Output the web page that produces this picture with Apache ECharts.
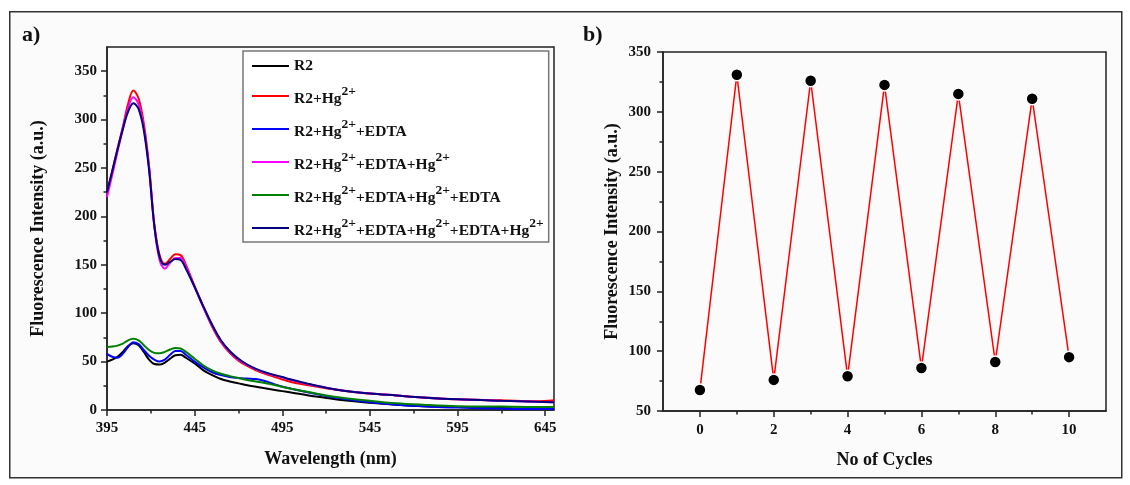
<!DOCTYPE html>
<html>
<head>
<meta charset="utf-8">
<script src="https://cdn.jsdelivr.net/npm/echarts@6/dist/echarts.min.js"></script>
<style>
  html, body { margin: 0; padding: 0; background: #fff; }
  #chart { width: 1130px; height: 485px; }
</style>
</head>
<body>
<div id="chart"></div>
<script>
// panel a) emission spectra
const wavelength = [395, 398, 401, 404, 407, 410, 413, 416, 419, 422, 425, 428, 431, 434, 437, 440, 445, 450, 455, 460, 465, 470, 475, 480, 485, 490, 495, 500, 510, 520, 530, 545, 560, 575, 595, 620, 640, 650];
const r2 = [50, 52, 55, 60, 66, 69, 67, 60, 52, 47.5, 47, 49, 53, 56.5, 57, 54, 48, 41, 36, 32, 29.5, 27.5, 25.5, 24, 22.5, 21, 19.5, 18, 15, 12.5, 10, 7.5, 5.5, 4, 3, 2, 1.5, 1.5];
const r2Hg = [225, 247, 270, 292, 316, 330, 322, 296, 252, 192, 160, 151, 156, 161, 160, 150, 128, 106, 86, 70, 59, 51, 45.5, 41, 37.5, 34.5, 31.5, 29, 25.5, 22.5, 20, 17, 15, 13, 11, 10, 9, 10];
const r2HgEdta = [58, 55, 54, 58, 65, 70, 68, 62, 56, 52, 50, 52, 57, 61, 61, 57, 50, 44, 39, 36, 34, 33, 32.5, 32, 30, 27, 24, 22, 18, 14.5, 11.5, 8, 5.5, 4, 2.5, 1.5, 1, 1];
const r2HgEdtaHg = [220, 243, 267, 290, 312, 323, 316, 292, 250, 190, 155, 146, 152, 157, 157, 148, 127, 106, 87, 71, 60, 52, 46.5, 42, 38.5, 36, 33.5, 31, 26.5, 23, 20, 17, 15, 13, 11, 9.5, 8.5, 8];
const r2HgEdtaHgEdta = [65, 65.5, 66.5, 68.5, 72, 73.5, 72, 67, 62, 59, 58.5, 60, 62.5, 64, 63.5, 60, 53, 46, 41, 37.5, 35, 33, 31, 29.5, 28, 26, 24, 22, 18.5, 15, 12.5, 9.5, 7, 5.5, 4, 3.5, 3, 3];
const r2HgEdtaHgEdtaHg = [225, 247, 269, 290, 308, 317, 311, 289, 248, 190, 158, 150, 153, 156, 155, 146, 127, 107, 88, 72, 61, 53, 47, 42.5, 39, 36.5, 34, 31.5, 27, 23, 20, 17, 15, 13, 11, 9.5, 8.5, 8];

const seriesNames = [
  "{n|R2}",
  "{n|R2+Hg}{s|2+}",
  "{n|R2+Hg}{s|2+}{n|+EDTA}",
  "{n|R2+Hg}{s|2+}{n|+EDTA+Hg}{s|2+}",
  "{n|R2+Hg}{s|2+}{n|+EDTA+Hg}{s|2+}{n|+EDTA}",
  "{n|R2+Hg}{s|2+}{n|+EDTA+Hg}{s|2+}{n|+EDTA+Hg}{s|2+}"
];
const seriesColors = ["#000000", "#ff0000", "#0000ff", "#ff00ff", "#008000", "#000080"];
const spectra = [r2, r2Hg, r2HgEdta, r2HgEdtaHg, r2HgEdtaHgEdta, r2HgEdtaHgEdtaHg];

// axis ticks of panel a)
const waveTicks = [395, 445, 495, 545, 595, 645];
const waveMinor = [420, 470, 520, 570, 620];
const intensityTicks = [0, 50, 100, 150, 200, 250, 300, 350];
const intensityMinor = [25, 75, 125, 175, 225, 275, 325];

// panel b) reversibility cycles
const cycles = [0, 1, 2, 3, 4, 5, 6, 7, 8, 9, 10];
const cycleIntensity = [67.5, 331, 76, 326, 79, 322.5, 86, 315, 91, 311, 95];
const cycleTicks = [0, 2, 4, 6, 8, 10];
const cycleMinor = [1, 3, 5, 7, 9];
const cycleYTicks = [50, 100, 150, 200, 250, 300, 350];
const cycleYMinor = [75, 125, 175, 225, 275, 325];

const FONT = "Liberation Serif";
const INK = "#111";
const AXIS = "#222";

const base = { fontFamily: FONT, fontWeight: "bold", color: INK };

function tick(values, length) {
  return { show: true, customValues: values, length: length, inside: false, lineStyle: { color: AXIS, width: 1.5 } };
}

function mainAxis(extra) {
  return Object.assign({
    type: "value",
    axisLine: { show: true, onZero: false, lineStyle: { color: AXIS, width: 1.5 } },
    splitLine: { show: false },
    nameTextStyle: Object.assign({ fontSize: 18 }, base)
  }, extra);
}

// extra axis on the same side, used only to draw the short minor ticks
function minorAxis(extra) {
  return Object.assign({
    type: "value",
    offset: 0,
    axisLine: { show: false, onZero: false },
    axisLabel: { show: false },
    splitLine: { show: false }
  }, extra);
}

const chart = echarts.init(document.getElementById("chart"));

chart.setOption({
  animation: false,
  backgroundColor: "#ffffff",
  textStyle: { fontFamily: FONT },
  graphic: [
    { type: "rect", left: 9, top: 11, shape: { width: 1112, height: 466 },
      style: { fill: "#fbfbfb", stroke: "#333", lineWidth: 1.5 }, z: -10 },
    { type: "text", left: 22, top: 24, style: Object.assign({ text: "a)", fontSize: 22 }, base, { fill: INK }) },
    { type: "text", left: 583, top: 24, style: Object.assign({ text: "b)", fontSize: 22 }, base, { fill: INK }) }
  ],
  grid: [
    { left: 107, top: 47, width: 447, height: 363, show: true, borderColor: AXIS, borderWidth: 1.5, backgroundColor: "transparent" },
    { left: 663, top: 52, width: 443, height: 359, show: true, borderColor: AXIS, borderWidth: 1.5, backgroundColor: "transparent" }
  ],
  legend: {
    data: seriesNames,
    orient: "vertical",
    left: 243,
    top: 51,
    padding: [7, 5, 3, 9],
    itemGap: 11,
    itemWidth: 37,
    itemHeight: 2,
    icon: "rect",
    borderColor: "#777",
    borderWidth: 1.5,
    backgroundColor: "#ffffff",
    textStyle: {
      fontFamily: FONT, fontWeight: "bold", fontSize: 15.5, color: INK,
      rich: {
        n: { fontFamily: FONT, fontWeight: "bold", fontSize: 15.5, color: INK, verticalAlign: "bottom" },
        s: { fontFamily: FONT, fontWeight: "bold", fontSize: 13.5, color: INK, padding: [0, 0, 8, 0], verticalAlign: "top" }
      }
    }
  },
  xAxis: [
    mainAxis({
      gridIndex: 0, min: 395, max: 650, position: "bottom",
      name: "Wavelength (nm)", nameLocation: "middle", nameGap: 40,
      axisLabel: Object.assign({ customValues: waveTicks, fontSize: 15, margin: 11 }, base),
      axisTick: tick(waveTicks, 6)
    }),
    minorAxis({
      gridIndex: 0, min: 395, max: 650, position: "bottom",
      axisTick: tick(waveMinor, 3.5)
    }),
    mainAxis({
      gridIndex: 1, min: -1, max: 11, position: "bottom",
      name: "No of Cycles", nameLocation: "middle", nameGap: 40,
      axisLabel: Object.assign({ customValues: cycleTicks, fontSize: 15, margin: 12 }, base),
      axisTick: tick(cycleTicks, 6)
    }),
    minorAxis({
      gridIndex: 1, min: -1, max: 11, position: "bottom",
      axisTick: tick(cycleMinor, 3.5)
    })
  ],
  yAxis: [
    mainAxis({
      gridIndex: 0, min: 0, max: 375, position: "left",
      name: "Fluorescence Intensity (a.u.)", nameLocation: "middle", nameGap: 60,
      axisLabel: Object.assign({ customValues: intensityTicks, fontSize: 15, margin: 10 }, base),
      axisTick: tick(intensityTicks, 6)
    }),
    minorAxis({
      gridIndex: 0, min: 0, max: 375, position: "left",
      axisTick: tick(intensityMinor, 3.5)
    }),
    mainAxis({
      gridIndex: 1, min: 50, max: 350, position: "left",
      name: "Fluorescence Intensity (a.u.)", nameLocation: "middle", nameGap: 42,
      axisLabel: Object.assign({ customValues: cycleYTicks, fontSize: 15, margin: 12 }, base),
      axisTick: tick(cycleYTicks, 6)
    }),
    minorAxis({
      gridIndex: 1, min: 50, max: 350, position: "left",
      axisTick: tick(cycleYMinor, 3.5)
    })
  ],
  series: spectra.map((values, k) => ({
    name: seriesNames[k],
    type: "line",
    xAxisIndex: 0,
    yAxisIndex: 0,
    data: wavelength.map((w, i) => [w, values[i]]),
    showSymbol: false,
    smooth: 0.35,
    color: seriesColors[k],
    lineStyle: { width: 2, color: seriesColors[k] }
  })).concat([
    {
      name: "cycles",
      type: "line",
      xAxisIndex: 2,
      yAxisIndex: 2,
      data: cycles.map((c, i) => [c, cycleIntensity[i]]),
      symbol: "circle",
      symbolSize: 12,
      lineStyle: { width: 1.5, color: "#ff0000" },
      itemStyle: { color: "#000000", borderColor: "#ffffff", borderWidth: 1.5 },
      z: 3
    }
  ])
});
</script>
</body>
</html>
